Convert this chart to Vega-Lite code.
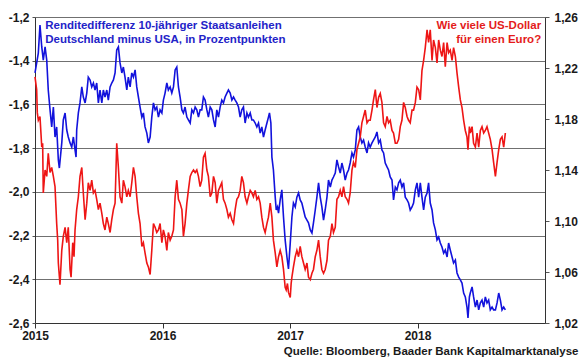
{
"$schema": "https://vega.github.io/schema/vega-lite/v6.json",
"width": 510, "height": 306,
"autosize": "none",
"padding": {"left": 35, "top": 17, "right": 35, "bottom": 35},
"background": "white",
"config": {"view": {"stroke": null}, "font": "Liberation Sans",
 "axis": {"labelFont": "Liberation Sans", "labelFontWeight": "bold", "labelFontSize": 12, "labelColor": "#1a1a1a", "domainColor": "#555555", "tickColor": "#555555", "titleFont": "Liberation Sans"}},
"datasets": {
"spread": [
{"year":2015.000,"spread":-1.456},{"year":2015.026,"spread":-1.365},{"year":2015.039,"spread":-1.237},{"year":2015.053,"spread":-1.337},{"year":2015.065,"spread":-1.397},{"year":2015.079,"spread":-1.337},{"year":2015.092,"spread":-1.397},{"year":2015.104,"spread":-1.534},{"year":2015.118,"spread":-1.625},{"year":2015.131,"spread":-1.703},{"year":2015.144,"spread":-1.612},{"year":2015.157,"spread":-1.749},{"year":2015.170,"spread":-1.703},{"year":2015.183,"spread":-1.854},{"year":2015.191,"spread":-1.891},{"year":2015.210,"spread":-1.776},{"year":2015.222,"spread":-1.671},{"year":2015.236,"spread":-1.639},{"year":2015.249,"spread":-1.717},{"year":2015.261,"spread":-1.749},{"year":2015.275,"spread":-1.776},{"year":2015.288,"spread":-1.795},{"year":2015.301,"spread":-1.749},{"year":2015.314,"spread":-1.808},{"year":2015.322,"spread":-1.841},{"year":2015.327,"spread":-1.717},{"year":2015.340,"spread":-1.639},{"year":2015.353,"spread":-1.593},{"year":2015.367,"spread":-1.520},{"year":2015.379,"spread":-1.566},{"year":2015.393,"spread":-1.593},{"year":2015.406,"spread":-1.548},{"year":2015.418,"spread":-1.475},{"year":2015.432,"spread":-1.488},{"year":2015.445,"spread":-1.520},{"year":2015.458,"spread":-1.502},{"year":2015.471,"spread":-1.534},{"year":2015.484,"spread":-1.502},{"year":2015.497,"spread":-1.593},{"year":2015.510,"spread":-1.534},{"year":2015.524,"spread":-1.593},{"year":2015.536,"spread":-1.534},{"year":2015.549,"spread":-1.566},{"year":2015.563,"spread":-1.534},{"year":2015.575,"spread":-1.580},{"year":2015.589,"spread":-1.520},{"year":2015.602,"spread":-1.502},{"year":2015.615,"spread":-1.488},{"year":2015.628,"spread":-1.456},{"year":2015.641,"spread":-1.351},{"year":2015.654,"spread":-1.337},{"year":2015.667,"spread":-1.410},{"year":2015.681,"spread":-1.456},{"year":2015.693,"spread":-1.429},{"year":2015.706,"spread":-1.475},{"year":2015.720,"spread":-1.534},{"year":2015.732,"spread":-1.475},{"year":2015.746,"spread":-1.520},{"year":2015.759,"spread":-1.456},{"year":2015.772,"spread":-1.475},{"year":2015.785,"spread":-1.442},{"year":2015.798,"spread":-1.520},{"year":2015.811,"spread":-1.566},{"year":2015.824,"spread":-1.612},{"year":2015.838,"spread":-1.658},{"year":2015.850,"spread":-1.639},{"year":2015.863,"spread":-1.703},{"year":2015.877,"spread":-1.731},{"year":2015.889,"spread":-1.776},{"year":2015.903,"spread":-1.749},{"year":2015.916,"spread":-1.658},{"year":2015.929,"spread":-1.593},{"year":2015.942,"spread":-1.625},{"year":2015.955,"spread":-1.612},{"year":2015.968,"spread":-1.658},{"year":2015.981,"spread":-1.625},{"year":2015.995,"spread":-1.639},{"year":2016.007,"spread":-1.580},{"year":2016.020,"spread":-1.548},{"year":2016.034,"spread":-1.502},{"year":2016.046,"spread":-1.534},{"year":2016.060,"spread":-1.520},{"year":2016.073,"spread":-1.548},{"year":2016.086,"spread":-1.520},{"year":2016.099,"spread":-1.442},{"year":2016.112,"spread":-1.429},{"year":2016.125,"spread":-1.520},{"year":2016.138,"spread":-1.566},{"year":2016.152,"spread":-1.625},{"year":2016.164,"spread":-1.639},{"year":2016.177,"spread":-1.612},{"year":2016.191,"spread":-1.658},{"year":2016.203,"spread":-1.671},{"year":2016.217,"spread":-1.685},{"year":2016.230,"spread":-1.625},{"year":2016.243,"spread":-1.639},{"year":2016.256,"spread":-1.612},{"year":2016.269,"spread":-1.625},{"year":2016.282,"spread":-1.658},{"year":2016.295,"spread":-1.625},{"year":2016.308,"spread":-1.625},{"year":2016.321,"spread":-1.566},{"year":2016.334,"spread":-1.580},{"year":2016.348,"spread":-1.625},{"year":2016.360,"spread":-1.658},{"year":2016.374,"spread":-1.612},{"year":2016.387,"spread":-1.625},{"year":2016.400,"spread":-1.671},{"year":2016.413,"spread":-1.703},{"year":2016.426,"spread":-1.625},{"year":2016.439,"spread":-1.658},{"year":2016.452,"spread":-1.612},{"year":2016.465,"spread":-1.580},{"year":2016.478,"spread":-1.593},{"year":2016.491,"spread":-1.566},{"year":2016.505,"spread":-1.548},{"year":2016.517,"spread":-1.534},{"year":2016.531,"spread":-1.548},{"year":2016.544,"spread":-1.580},{"year":2016.557,"spread":-1.566},{"year":2016.570,"spread":-1.580},{"year":2016.583,"spread":-1.593},{"year":2016.596,"spread":-1.612},{"year":2016.609,"spread":-1.658},{"year":2016.622,"spread":-1.625},{"year":2016.635,"spread":-1.612},{"year":2016.648,"spread":-1.685},{"year":2016.662,"spread":-1.639},{"year":2016.674,"spread":-1.658},{"year":2016.688,"spread":-1.639},{"year":2016.701,"spread":-1.671},{"year":2016.713,"spread":-1.671},{"year":2016.727,"spread":-1.685},{"year":2016.740,"spread":-1.703},{"year":2016.753,"spread":-1.685},{"year":2016.766,"spread":-1.731},{"year":2016.779,"spread":-1.703},{"year":2016.792,"spread":-1.749},{"year":2016.805,"spread":-1.717},{"year":2016.819,"spread":-1.685},{"year":2016.831,"spread":-1.658},{"year":2016.839,"spread":-1.639},{"year":2016.850,"spread":-1.685},{"year":2016.858,"spread":-1.841},{"year":2016.870,"spread":-1.900},{"year":2016.884,"spread":-2.024},{"year":2016.892,"spread":-2.083},{"year":2016.902,"spread":-2.069},{"year":2016.910,"spread":-2.097},{"year":2016.923,"spread":-2.037},{"year":2016.936,"spread":-1.991},{"year":2016.949,"spread":-2.115},{"year":2016.962,"spread":-2.220},{"year":2016.976,"spread":-2.298},{"year":2016.988,"spread":-2.353},{"year":2017.002,"spread":-2.234},{"year":2017.015,"spread":-2.115},{"year":2017.027,"spread":-2.051},{"year":2017.041,"spread":-2.069},{"year":2017.054,"spread":-2.024},{"year":2017.067,"spread":-2.005},{"year":2017.080,"spread":-2.037},{"year":2017.093,"spread":-2.051},{"year":2017.106,"spread":-2.083},{"year":2017.119,"spread":-2.115},{"year":2017.133,"spread":-2.129},{"year":2017.145,"spread":-2.142},{"year":2017.159,"spread":-2.174},{"year":2017.172,"spread":-2.188},{"year":2017.184,"spread":-2.142},{"year":2017.198,"spread":-2.083},{"year":2017.211,"spread":-2.024},{"year":2017.224,"spread":-1.959},{"year":2017.237,"spread":-2.024},{"year":2017.250,"spread":-2.069},{"year":2017.263,"spread":-2.129},{"year":2017.276,"spread":-2.083},{"year":2017.290,"spread":-2.024},{"year":2017.302,"spread":-1.946},{"year":2017.316,"spread":-1.978},{"year":2017.329,"spread":-1.946},{"year":2017.341,"spread":-1.932},{"year":2017.355,"spread":-1.914},{"year":2017.368,"spread":-1.854},{"year":2017.381,"spread":-1.886},{"year":2017.394,"spread":-1.914},{"year":2017.407,"spread":-1.868},{"year":2017.420,"spread":-1.900},{"year":2017.433,"spread":-1.946},{"year":2017.447,"spread":-1.914},{"year":2017.459,"spread":-1.900},{"year":2017.472,"spread":-1.868},{"year":2017.486,"spread":-1.822},{"year":2017.498,"spread":-1.841},{"year":2017.512,"spread":-1.808},{"year":2017.525,"spread":-1.717},{"year":2017.538,"spread":-1.703},{"year":2017.551,"spread":-1.749},{"year":2017.564,"spread":-1.776},{"year":2017.577,"spread":-1.763},{"year":2017.590,"spread":-1.795},{"year":2017.604,"spread":-1.822},{"year":2017.616,"spread":-1.776},{"year":2017.629,"spread":-1.795},{"year":2017.643,"spread":-1.776},{"year":2017.655,"spread":-1.763},{"year":2017.669,"spread":-1.749},{"year":2017.682,"spread":-1.726},{"year":2017.695,"spread":-1.776},{"year":2017.708,"spread":-1.763},{"year":2017.721,"spread":-1.808},{"year":2017.734,"spread":-1.822},{"year":2017.747,"spread":-1.868},{"year":2017.761,"spread":-1.886},{"year":2017.773,"spread":-1.900},{"year":2017.786,"spread":-1.932},{"year":2017.800,"spread":-1.946},{"year":2017.812,"spread":-2.037},{"year":2017.826,"spread":-1.978},{"year":2017.839,"spread":-1.991},{"year":2017.852,"spread":-1.959},{"year":2017.865,"spread":-1.946},{"year":2017.878,"spread":-1.978},{"year":2017.891,"spread":-1.959},{"year":2017.904,"spread":-2.024},{"year":2017.918,"spread":-2.037},{"year":2017.930,"spread":-2.051},{"year":2017.943,"spread":-2.083},{"year":2017.957,"spread":-2.069},{"year":2017.969,"spread":-2.051},{"year":2017.983,"spread":-1.991},{"year":2017.996,"spread":-1.959},{"year":2018.009,"spread":-2.024},{"year":2018.022,"spread":-1.959},{"year":2018.035,"spread":-2.024},{"year":2018.048,"spread":-2.083},{"year":2018.061,"spread":-2.024},{"year":2018.075,"spread":-2.005},{"year":2018.087,"spread":-1.959},{"year":2018.100,"spread":-2.051},{"year":2018.114,"spread":-2.083},{"year":2018.126,"spread":-2.142},{"year":2018.140,"spread":-2.174},{"year":2018.153,"spread":-2.220},{"year":2018.166,"spread":-2.207},{"year":2018.179,"spread":-2.234},{"year":2018.192,"spread":-2.252},{"year":2018.205,"spread":-2.280},{"year":2018.218,"spread":-2.266},{"year":2018.232,"spread":-2.298},{"year":2018.244,"spread":-2.234},{"year":2018.257,"spread":-2.266},{"year":2018.271,"spread":-2.298},{"year":2018.283,"spread":-2.325},{"year":2018.297,"spread":-2.312},{"year":2018.310,"spread":-2.371},{"year":2018.323,"spread":-2.390},{"year":2018.336,"spread":-2.403},{"year":2018.349,"spread":-2.417},{"year":2018.362,"spread":-2.463},{"year":2018.375,"spread":-2.481},{"year":2018.388,"spread":-2.527},{"year":2018.396,"spread":-2.577},{"year":2018.407,"spread":-2.481},{"year":2018.414,"spread":-2.463},{"year":2018.428,"spread":-2.435},{"year":2018.440,"spread":-2.481},{"year":2018.454,"spread":-2.527},{"year":2018.467,"spread":-2.495},{"year":2018.480,"spread":-2.540},{"year":2018.493,"spread":-2.508},{"year":2018.506,"spread":-2.495},{"year":2018.519,"spread":-2.527},{"year":2018.532,"spread":-2.481},{"year":2018.545,"spread":-2.508},{"year":2018.558,"spread":-2.495},{"year":2018.571,"spread":-2.540},{"year":2018.585,"spread":-2.527},{"year":2018.597,"spread":-2.540},{"year":2018.611,"spread":-2.540},{"year":2018.624,"spread":-2.508},{"year":2018.637,"spread":-2.463},{"year":2018.650,"spread":-2.495},{"year":2018.663,"spread":-2.540},{"year":2018.676,"spread":-2.527},{"year":2018.689,"spread":-2.540}
],
"usd": [
{"year":2015.000,"usd":1.213},{"year":2015.013,"usd":1.203},{"year":2015.018,"usd":1.185},{"year":2015.026,"usd":1.179},{"year":2015.039,"usd":1.182},{"year":2015.053,"usd":1.158},{"year":2015.060,"usd":1.161},{"year":2015.065,"usd":1.122},{"year":2015.079,"usd":1.140},{"year":2015.092,"usd":1.135},{"year":2015.104,"usd":1.153},{"year":2015.118,"usd":1.138},{"year":2015.131,"usd":1.142},{"year":2015.144,"usd":1.135},{"year":2015.157,"usd":1.127},{"year":2015.170,"usd":1.098},{"year":2015.178,"usd":1.085},{"year":2015.183,"usd":1.067},{"year":2015.196,"usd":1.050},{"year":2015.210,"usd":1.077},{"year":2015.222,"usd":1.088},{"year":2015.236,"usd":1.095},{"year":2015.249,"usd":1.083},{"year":2015.261,"usd":1.095},{"year":2015.275,"usd":1.062},{"year":2015.283,"usd":1.056},{"year":2015.296,"usd":1.083},{"year":2015.306,"usd":1.072},{"year":2015.314,"usd":1.093},{"year":2015.327,"usd":1.109},{"year":2015.340,"usd":1.119},{"year":2015.353,"usd":1.135},{"year":2015.367,"usd":1.142},{"year":2015.379,"usd":1.122},{"year":2015.393,"usd":1.101},{"year":2015.406,"usd":1.114},{"year":2015.418,"usd":1.130},{"year":2015.432,"usd":1.124},{"year":2015.445,"usd":1.132},{"year":2015.458,"usd":1.122},{"year":2015.471,"usd":1.124},{"year":2015.484,"usd":1.117},{"year":2015.497,"usd":1.109},{"year":2015.510,"usd":1.114},{"year":2015.524,"usd":1.106},{"year":2015.536,"usd":1.098},{"year":2015.549,"usd":1.093},{"year":2015.563,"usd":1.103},{"year":2015.575,"usd":1.098},{"year":2015.589,"usd":1.091},{"year":2015.602,"usd":1.101},{"year":2015.615,"usd":1.109},{"year":2015.628,"usd":1.114},{"year":2015.641,"usd":1.161},{"year":2015.654,"usd":1.142},{"year":2015.667,"usd":1.119},{"year":2015.681,"usd":1.114},{"year":2015.693,"usd":1.132},{"year":2015.706,"usd":1.127},{"year":2015.720,"usd":1.119},{"year":2015.732,"usd":1.124},{"year":2015.746,"usd":1.119},{"year":2015.759,"usd":1.130},{"year":2015.772,"usd":1.142},{"year":2015.785,"usd":1.135},{"year":2015.798,"usd":1.119},{"year":2015.811,"usd":1.106},{"year":2015.824,"usd":1.098},{"year":2015.838,"usd":1.080},{"year":2015.850,"usd":1.083},{"year":2015.863,"usd":1.075},{"year":2015.877,"usd":1.067},{"year":2015.889,"usd":1.064},{"year":2015.903,"usd":1.058},{"year":2015.916,"usd":1.077},{"year":2015.929,"usd":1.098},{"year":2015.942,"usd":1.095},{"year":2015.955,"usd":1.091},{"year":2015.968,"usd":1.093},{"year":2015.981,"usd":1.098},{"year":2015.995,"usd":1.083},{"year":2016.007,"usd":1.093},{"year":2016.020,"usd":1.088},{"year":2016.034,"usd":1.077},{"year":2016.046,"usd":1.091},{"year":2016.060,"usd":1.085},{"year":2016.073,"usd":1.088},{"year":2016.086,"usd":1.093},{"year":2016.099,"usd":1.119},{"year":2016.112,"usd":1.132},{"year":2016.125,"usd":1.117},{"year":2016.138,"usd":1.114},{"year":2016.152,"usd":1.109},{"year":2016.164,"usd":1.088},{"year":2016.177,"usd":1.098},{"year":2016.191,"usd":1.114},{"year":2016.203,"usd":1.124},{"year":2016.217,"usd":1.135},{"year":2016.230,"usd":1.138},{"year":2016.243,"usd":1.140},{"year":2016.256,"usd":1.138},{"year":2016.269,"usd":1.140},{"year":2016.282,"usd":1.135},{"year":2016.295,"usd":1.127},{"year":2016.308,"usd":1.132},{"year":2016.321,"usd":1.150},{"year":2016.334,"usd":1.153},{"year":2016.348,"usd":1.140},{"year":2016.360,"usd":1.135},{"year":2016.374,"usd":1.119},{"year":2016.387,"usd":1.122},{"year":2016.400,"usd":1.135},{"year":2016.413,"usd":1.130},{"year":2016.426,"usd":1.114},{"year":2016.439,"usd":1.124},{"year":2016.452,"usd":1.127},{"year":2016.465,"usd":1.130},{"year":2016.478,"usd":1.117},{"year":2016.491,"usd":1.114},{"year":2016.505,"usd":1.109},{"year":2016.517,"usd":1.103},{"year":2016.531,"usd":1.106},{"year":2016.544,"usd":1.101},{"year":2016.557,"usd":1.098},{"year":2016.570,"usd":1.109},{"year":2016.583,"usd":1.117},{"year":2016.596,"usd":1.119},{"year":2016.609,"usd":1.124},{"year":2016.622,"usd":1.135},{"year":2016.635,"usd":1.130},{"year":2016.648,"usd":1.119},{"year":2016.662,"usd":1.114},{"year":2016.674,"usd":1.119},{"year":2016.688,"usd":1.124},{"year":2016.701,"usd":1.122},{"year":2016.713,"usd":1.119},{"year":2016.727,"usd":1.124},{"year":2016.740,"usd":1.117},{"year":2016.753,"usd":1.119},{"year":2016.766,"usd":1.114},{"year":2016.779,"usd":1.103},{"year":2016.792,"usd":1.095},{"year":2016.805,"usd":1.091},{"year":2016.819,"usd":1.098},{"year":2016.831,"usd":1.103},{"year":2016.845,"usd":1.114},{"year":2016.858,"usd":1.103},{"year":2016.870,"usd":1.085},{"year":2016.884,"usd":1.075},{"year":2016.897,"usd":1.064},{"year":2016.910,"usd":1.072},{"year":2016.923,"usd":1.077},{"year":2016.936,"usd":1.072},{"year":2016.949,"usd":1.062},{"year":2016.962,"usd":1.048},{"year":2016.970,"usd":1.046},{"year":2016.980,"usd":1.051},{"year":2016.988,"usd":1.044},{"year":2017.002,"usd":1.040},{"year":2017.009,"usd":1.051},{"year":2017.015,"usd":1.056},{"year":2017.027,"usd":1.064},{"year":2017.041,"usd":1.072},{"year":2017.054,"usd":1.077},{"year":2017.067,"usd":1.072},{"year":2017.080,"usd":1.080},{"year":2017.093,"usd":1.072},{"year":2017.106,"usd":1.067},{"year":2017.119,"usd":1.062},{"year":2017.133,"usd":1.067},{"year":2017.145,"usd":1.056},{"year":2017.159,"usd":1.054},{"year":2017.172,"usd":1.059},{"year":2017.184,"usd":1.062},{"year":2017.198,"usd":1.072},{"year":2017.211,"usd":1.077},{"year":2017.224,"usd":1.085},{"year":2017.237,"usd":1.072},{"year":2017.250,"usd":1.062},{"year":2017.263,"usd":1.059},{"year":2017.276,"usd":1.062},{"year":2017.290,"usd":1.069},{"year":2017.302,"usd":1.085},{"year":2017.316,"usd":1.088},{"year":2017.329,"usd":1.098},{"year":2017.341,"usd":1.091},{"year":2017.355,"usd":1.095},{"year":2017.368,"usd":1.117},{"year":2017.381,"usd":1.119},{"year":2017.394,"usd":1.124},{"year":2017.407,"usd":1.119},{"year":2017.420,"usd":1.127},{"year":2017.433,"usd":1.119},{"year":2017.447,"usd":1.117},{"year":2017.459,"usd":1.114},{"year":2017.472,"usd":1.122},{"year":2017.486,"usd":1.140},{"year":2017.498,"usd":1.146},{"year":2017.512,"usd":1.142},{"year":2017.525,"usd":1.156},{"year":2017.538,"usd":1.161},{"year":2017.551,"usd":1.166},{"year":2017.564,"usd":1.177},{"year":2017.577,"usd":1.182},{"year":2017.590,"usd":1.187},{"year":2017.604,"usd":1.177},{"year":2017.616,"usd":1.179},{"year":2017.629,"usd":1.179},{"year":2017.643,"usd":1.187},{"year":2017.655,"usd":1.195},{"year":2017.669,"usd":1.203},{"year":2017.682,"usd":1.189},{"year":2017.695,"usd":1.197},{"year":2017.708,"usd":1.200},{"year":2017.721,"usd":1.193},{"year":2017.734,"usd":1.177},{"year":2017.747,"usd":1.174},{"year":2017.761,"usd":1.182},{"year":2017.773,"usd":1.177},{"year":2017.786,"usd":1.179},{"year":2017.800,"usd":1.171},{"year":2017.812,"usd":1.169},{"year":2017.826,"usd":1.161},{"year":2017.839,"usd":1.161},{"year":2017.852,"usd":1.164},{"year":2017.865,"usd":1.174},{"year":2017.878,"usd":1.179},{"year":2017.891,"usd":1.193},{"year":2017.904,"usd":1.189},{"year":2017.918,"usd":1.182},{"year":2017.930,"usd":1.179},{"year":2017.943,"usd":1.177},{"year":2017.957,"usd":1.187},{"year":2017.969,"usd":1.187},{"year":2017.983,"usd":1.193},{"year":2017.996,"usd":1.205},{"year":2018.009,"usd":1.203},{"year":2018.022,"usd":1.195},{"year":2018.035,"usd":1.218},{"year":2018.048,"usd":1.226},{"year":2018.061,"usd":1.236},{"year":2018.075,"usd":1.250},{"year":2018.087,"usd":1.240},{"year":2018.100,"usd":1.250},{"year":2018.114,"usd":1.226},{"year":2018.126,"usd":1.242},{"year":2018.140,"usd":1.236},{"year":2018.153,"usd":1.224},{"year":2018.166,"usd":1.242},{"year":2018.179,"usd":1.234},{"year":2018.192,"usd":1.229},{"year":2018.205,"usd":1.240},{"year":2018.218,"usd":1.221},{"year":2018.232,"usd":1.240},{"year":2018.244,"usd":1.232},{"year":2018.257,"usd":1.234},{"year":2018.271,"usd":1.226},{"year":2018.283,"usd":1.236},{"year":2018.297,"usd":1.229},{"year":2018.310,"usd":1.216},{"year":2018.323,"usd":1.205},{"year":2018.336,"usd":1.195},{"year":2018.349,"usd":1.189},{"year":2018.362,"usd":1.179},{"year":2018.375,"usd":1.171},{"year":2018.388,"usd":1.166},{"year":2018.396,"usd":1.156},{"year":2018.407,"usd":1.174},{"year":2018.414,"usd":1.169},{"year":2018.428,"usd":1.174},{"year":2018.440,"usd":1.161},{"year":2018.454,"usd":1.158},{"year":2018.467,"usd":1.169},{"year":2018.480,"usd":1.158},{"year":2018.493,"usd":1.171},{"year":2018.506,"usd":1.174},{"year":2018.519,"usd":1.169},{"year":2018.532,"usd":1.171},{"year":2018.545,"usd":1.174},{"year":2018.558,"usd":1.169},{"year":2018.571,"usd":1.164},{"year":2018.585,"usd":1.156},{"year":2018.597,"usd":1.146},{"year":2018.611,"usd":1.135},{"year":2018.624,"usd":1.146},{"year":2018.637,"usd":1.156},{"year":2018.650,"usd":1.164},{"year":2018.663,"usd":1.166},{"year":2018.676,"usd":1.158},{"year":2018.689,"usd":1.169}
]
},
"layer": [
 {"layer": [
  {"data": {"name": "spread"},
   "mark": {"type": "line", "color": "#1212dc", "strokeWidth": 1.6},
   "encoding": {
    "x": {"field": "year", "type": "quantitative", "scale": {"domain": [2015, 2019], "nice": false, "zero": false},
          "axis": {"values": [2015, 2016, 2017, 2018], "format": "d", "grid": false, "tickSize": 5, "labelPadding": 2, "labelFlush": false, "domainColor": "#333333", "tickColor": "#333333",
                   "title": "Quelle: Bloomberg, Baader Bank Kapitalmarktanalyse", "titleFontWeight": "bold", "titleFontSize": 11.5, "titleColor": "#1a1a1a", "titleAlign": "right", "titleAnchor": "end", "titleX": 543, "titleY": 28, "titleBaseline": "middle"}},
    "y": {"field": "spread", "type": "quantitative", "scale": {"domain": [-2.6, -1.2], "nice": false, "zero": false},
          "axis": {"values": [-2.6, -2.4, -2.2, -2.0, -1.8, -1.6, -1.4, -1.2], "labelExpr": "replace(replace(format(datum.value, '.1f'), '.', ','), '\u2212', '-')", "grid": true, "gridColor": "#707070", "gridWidth": 1, "tickSize": 3, "labelPadding": 3, "title": null, "domainColor": "#333333"}}
   }},
  {"data": {"values": [{}]},
   "mark": {"type": "text", "align": "left", "baseline": "top", "font": "Liberation Sans", "fontWeight": "bold", "fontSize": 11.5, "lineHeight": 14, "color": "#2323c8"},
   "encoding": {"x": {"datum": 2015.08}, "y": {"datum": -1.214},
    "text": {"value": ["Renditedifferenz 10-jähriger Staatsanleihen", "Deutschland minus USA, in Prozentpunkten"]}}}
 ]},
 {"layer": [
  {"data": {"name": "usd"},
   "mark": {"type": "line", "color": "#ee1515", "strokeWidth": 1.6},
   "encoding": {
    "x": {"field": "year", "type": "quantitative"},
    "y": {"field": "usd", "type": "quantitative", "scale": {"domain": [1.02, 1.26], "nice": false, "zero": false},
          "axis": {"orient": "right", "values": [1.02, 1.06, 1.1, 1.14, 1.18, 1.22, 1.26], "labelExpr": "replace(format(datum.value, '.2f'), '.', ',')", "grid": false, "tickSize": 4, "labelPadding": 5, "title": null, "domainColor": "#333333"}}
   }},
  {"data": {"values": [{}]},
   "mark": {"type": "text", "align": "right", "baseline": "top", "font": "Liberation Sans", "fontWeight": "bold", "fontSize": 11.5, "lineHeight": 14, "color": "#e41b1b"},
   "encoding": {"x": {"datum": 2018.97}, "y": {"datum": 1.2576},
    "text": {"value": ["Wie viele US-Dollar", "für einen Euro?"]}}}
 ]}
],
"resolve": {"scale": {"y": "independent"}}
}
